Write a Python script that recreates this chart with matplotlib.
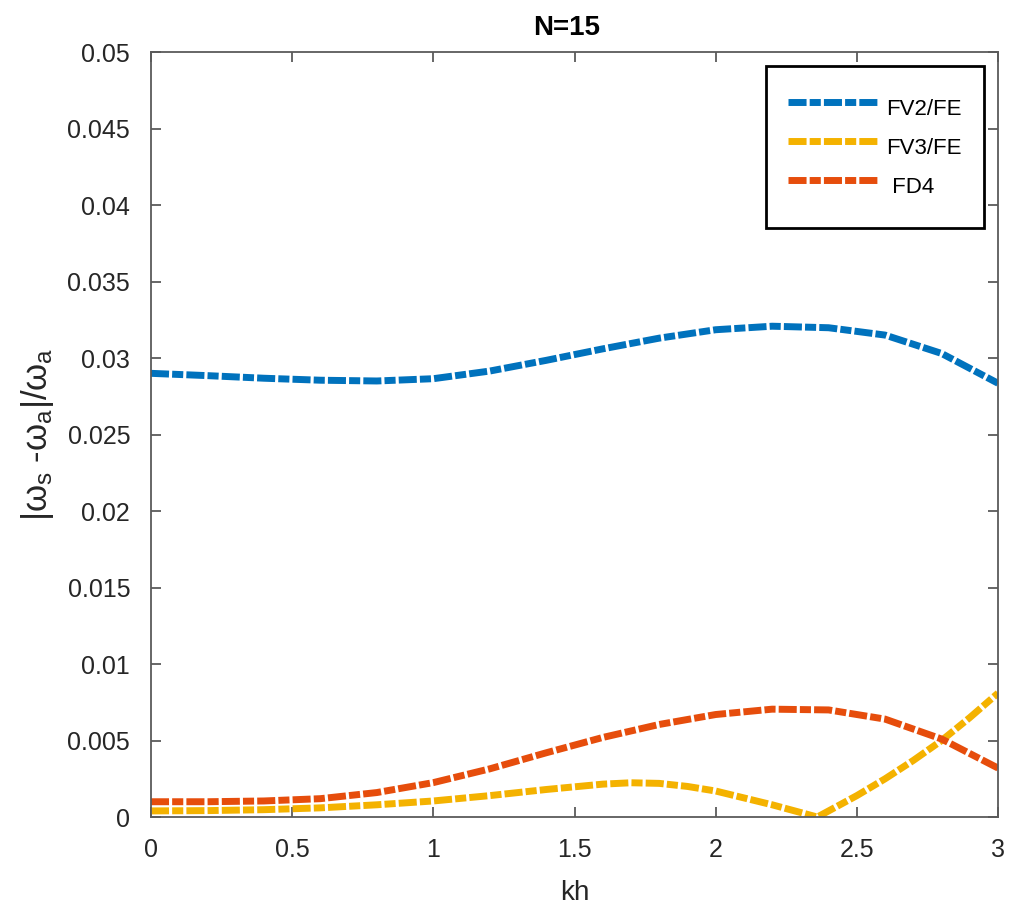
"""
Relative dispersion error of the three schemes for N=15.
"""

import matplotlib.pyplot as plt

plt.rcParams["font.family"] = ["Liberation Sans", "DejaVu Sans"]
plt.rcParams["mathtext.fontset"] = "custom"
plt.rcParams["mathtext.rm"] = "Liberation Sans"
plt.rcParams["mathtext.it"] = "Liberation Sans"

# Values
kh_fv2 = [0, 0.2, 0.4, 0.6, 0.8, 1.0, 1.2, 1.4, 1.6, 1.8, 2.0, 2.2, 2.4, 2.6, 2.8, 3.0]
err_fv2 = [0.0290, 0.02885, 0.02868, 0.02855, 0.02850, 0.02865, 0.02915, 0.02985,
           0.03060, 0.03130, 0.03185, 0.03208, 0.03198, 0.03150, 0.03030, 0.02835]

kh_fv3 = [0, 0.2, 0.4, 0.6, 0.8, 1.0, 1.2, 1.4, 1.6, 1.7, 1.8, 1.9, 2.0, 2.1, 2.2,
          2.3, 2.36, 2.4, 2.5, 2.6, 2.7, 2.8, 2.9, 3.0]
err_fv3 = [0.0004, 0.00042, 0.00048, 0.0006, 0.0008, 0.00105, 0.0014, 0.0018,
           0.00215, 0.00224, 0.0022, 0.0020, 0.0017, 0.00125, 0.0008, 0.0003,
           0.0, 0.0004, 0.0014, 0.0025, 0.0037, 0.0050, 0.0065, 0.0081]

kh_fd4 = [0, 0.2, 0.4, 0.6, 0.8, 1.0, 1.2, 1.4, 1.6, 1.8, 2.0, 2.2, 2.4, 2.6, 2.8, 3.0]
err_fd4 = [0.0010, 0.0010, 0.00105, 0.0012, 0.0016, 0.00225, 0.00315, 0.0042,
           0.0052, 0.00605, 0.0067, 0.00705, 0.0070, 0.0064, 0.0051, 0.0032]

labels = ["FV2/FE", "FV3/FE", " FD4"]
colours = ["#0072BD", "#F4B200", "#E64D0C"]

x_ticks = [0, 0.5, 1, 1.5, 2, 2.5, 3]
x_ticklabels = ["0", "0.5", "1", "1.5", "2", "2.5", "3"]
y_ticks = [0, 0.005, 0.01, 0.015, 0.02, 0.025, 0.03, 0.035, 0.04, 0.045, 0.05]
y_ticklabels = ["0", "0.005", "0.01", "0.015", "0.02", "0.025", "0.03", "0.035",
                "0.04", "0.045", "0.05"]

fig = plt.figure(figsize=(10.18, 9.05), dpi=100)
ax = fig.add_axes([0.1483, 0.0972, 0.8321, 0.8453])

series = [(kh_fv2, err_fv2), (kh_fv3, err_fv3), (kh_fd4, err_fd4)]
for (kh, err), label, colour in zip(series, labels, colours):
    (line,) = ax.plot(kh, err, color=colour, linewidth=5, label=label,
                      solid_capstyle="butt", dash_capstyle="butt")
    line.set_dashes([2.6, 0.45, 1.6, 0.45])

ax.set_xlim(0, 3)
ax.set_ylim(0, 0.05)
ax.set_xticks(x_ticks, x_ticklabels)
ax.set_yticks(y_ticks, y_ticklabels)

frame_colour = "#5a5a5a"
for spine in ax.spines.values():
    spine.set_color(frame_colour)
    spine.set_linewidth(1.3)
ax.tick_params(which="both", direction="in", top=True, right=True, length=7,
               width=1.3, color=frame_colour, labelsize=18, labelcolor="#262626",
               pad=15)

ax.set_title("N=15", fontsize=20, fontweight="bold", pad=12, x=0.4905)
ax.set_xlabel("kh", fontsize=20, color="#262626", labelpad=13)
ax.set_ylabel(r"$|\omega_\mathrm{s}$ -$\omega_\mathrm{a}|/\omega_\mathrm{a}$",
              fontsize=25, color="#262626", labelpad=8)

leg = ax.legend(loc="upper right", fontsize=16, handlelength=4.05, handletextpad=0.36,
                handleheight=2.32, borderpad=1.0, labelspacing=0.0,
                borderaxespad=0.65, fancybox=False, framealpha=1)
leg.get_frame().set_edgecolor("black")
leg.get_frame().set_linewidth(2)

fig.savefig("out.png", dpi=100)
